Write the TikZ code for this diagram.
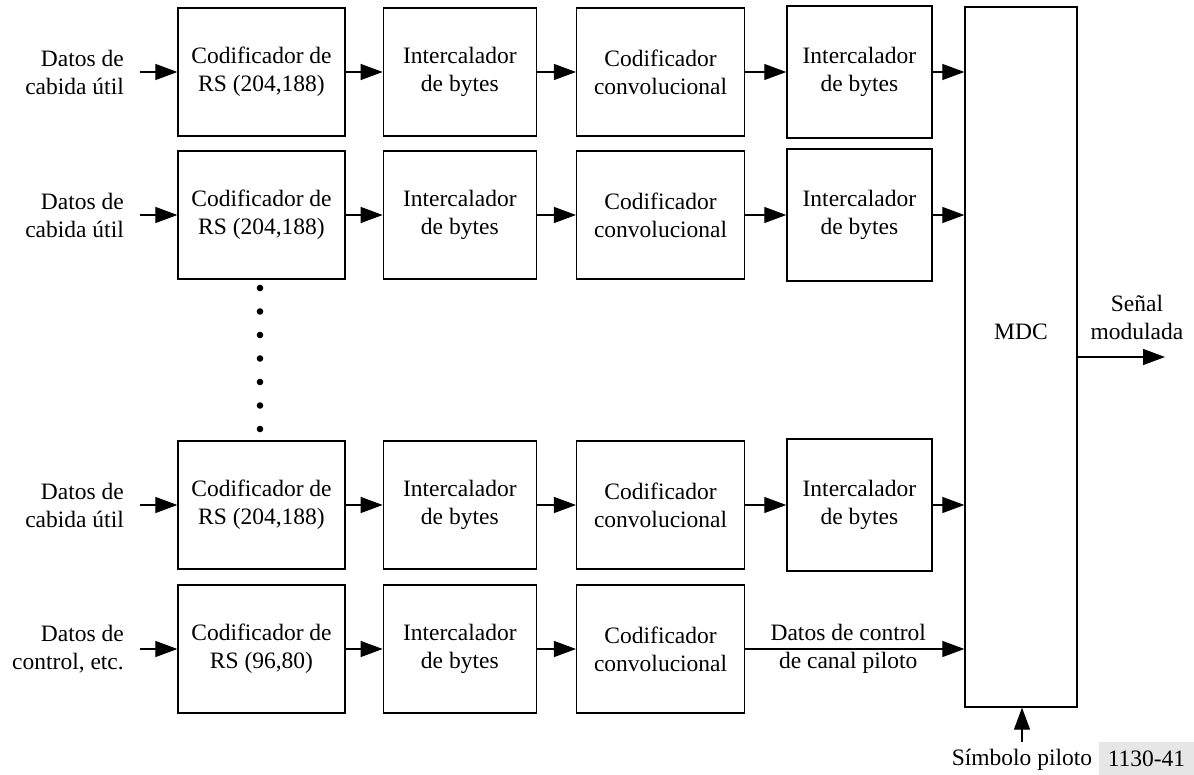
\documentclass[tikz,border=0pt]{standalone}
\usepackage{fontspec}
\setmainfont{Liberation Serif}
\usepackage{tikz}
\usetikzlibrary{arrows.meta, positioning, calc}
\definecolor{tagGray}{HTML}{E6E6E6}

\begin{document}
\begin{tikzpicture}[x=1pt, y=-1pt,
        font=\fontsize{23.5}{28}\selectfont,
        blk/.style={draw, line width=1.3pt, minimum height=128pt, inner sep=2pt, align=center},
        arr/.style={line width=1.2pt, -{Triangle[length=22pt, width=16pt]}},
        lbl/.style={inner sep=0pt, align=right, anchor=east}]
    \useasboundingbox (0,0) rectangle (1194,775);

    % fila 1
    \node[blk, minimum width=167pt] (rsA) at (261.5,72) {Codificador de\\RS (204,188)};
    \node[blk, minimum width=153pt, right=37pt of rsA] (ilA) {Intercalador\\de bytes};
    \node[blk, minimum width=168pt, right=39pt of ilA] (cvA) {Codificador\\convolucional};
    \node[blk, minimum width=145pt, minimum height=132pt, right=41pt of cvA] (ibA) {Intercalador\\de bytes};

    % fila 2
    \node[blk, minimum width=167pt] (rsB) at (261.5,215) {Codificador de\\RS (204,188)};
    \node[blk, minimum width=153pt, right=37pt of rsB] (ilB) {Intercalador\\de bytes};
    \node[blk, minimum width=168pt, right=39pt of ilB] (cvB) {Codificador\\convolucional};
    \node[blk, minimum width=145pt, minimum height=132pt, right=41pt of cvB] (ibB) {Intercalador\\de bytes};

    % fila 3
    \node[blk, minimum width=167pt] (rsC) at (261.5,505) {Codificador de\\RS (204,188)};
    \node[blk, minimum width=153pt, right=37pt of rsC] (ilC) {Intercalador\\de bytes};
    \node[blk, minimum width=168pt, right=39pt of ilC] (cvC) {Codificador\\convolucional};
    \node[blk, minimum width=145pt, minimum height=132pt, right=41pt of cvC] (ibC) {Intercalador\\de bytes};

    % fila de control
    \node[blk, minimum width=167pt] (rsD) at (261.5,649) {Codificador de\\RS (96,80)};
    \node[blk, minimum width=153pt, right=37pt of rsD] (ilD) {Intercalador\\de bytes};
    \node[blk, minimum width=168pt, right=39pt of ilD] (cvD) {Codificador\\convolucional};

    % multiplexor
    \node[blk, minimum width=112pt, minimum height=700pt] (mdc) at (1021,357) {};
    \node (mdcTxt) at ($(mdc.center)+(0,-25)$) {MDC};

    \foreach \k in {0,...,6}
        \fill (260,288+23.5*\k) circle (3.3pt);

    % entradas
    \node[lbl] (inTxtA) at (124,72) {Datos de\\cabida útil};
    \node[lbl] (inTxtB) at (124,215) {Datos de\\cabida útil};
    \node[lbl] (inTxtC) at (124,505) {Datos de\\cabida útil};
    \node[lbl] (inTxtD) at (124,649) {Datos de\\control, etc.};
    \coordinate (inA) at (140,72);
    \coordinate (inB) at (140,215);
    \coordinate (inC) at (140,505);
    \coordinate (inD) at (140,649);

    \draw[arr] (inA) -- (rsA);
    \draw[arr] (rsA) -- (ilA);
    \draw[arr] (ilA) -- (cvA);
    \draw[arr] (cvA) -- (ibA);
    \draw[arr] (ibA.east) -- (ibA.east -| mdc.west);

    \draw[arr] (inB) -- (rsB);
    \draw[arr] (rsB) -- (ilB);
    \draw[arr] (ilB) -- (cvB);
    \draw[arr] (cvB) -- (ibB);
    \draw[arr] (ibB.east) -- (ibB.east -| mdc.west);

    \draw[arr] (inC) -- (rsC);
    \draw[arr] (rsC) -- (ilC);
    \draw[arr] (ilC) -- (cvC);
    \draw[arr] (cvC) -- (ibC);
    \draw[arr] (ibC.east) -- (ibC.east -| mdc.west);

    \draw[arr] (inD) -- (rsD);
    \draw[arr] (rsD) -- (ilD);
    \draw[arr] (ilD) -- (cvD);
    \draw[arr] (cvD.east) -- (cvD.east -| mdc.west)
        node[pos=0.47, align=center, inner sep=0pt] (ctlTxt) {Datos de control\\de canal piloto};

    % salida y piloto
    \coordinate (outEnd) at (1165,357);
    \draw[arr] (mdc.east |- outEnd) -- (outEnd);
    \node[align=center, inner sep=0pt] (outTxt) at (1137,317) {Señal\\modulada};

    \coordinate (pil) at (1022,742);
    \draw[arr] (pil) -- (pil |- mdc.south);
    \node[inner sep=0pt] (pilTxt) at (1022,760) {Símbolo piloto};

    \node[fill=tagGray, minimum width=95pt, minimum height=33pt, inner sep=0pt] (figNo) at (1146.5,758.5) {1130-41};
\end{tikzpicture}
\end{document}
